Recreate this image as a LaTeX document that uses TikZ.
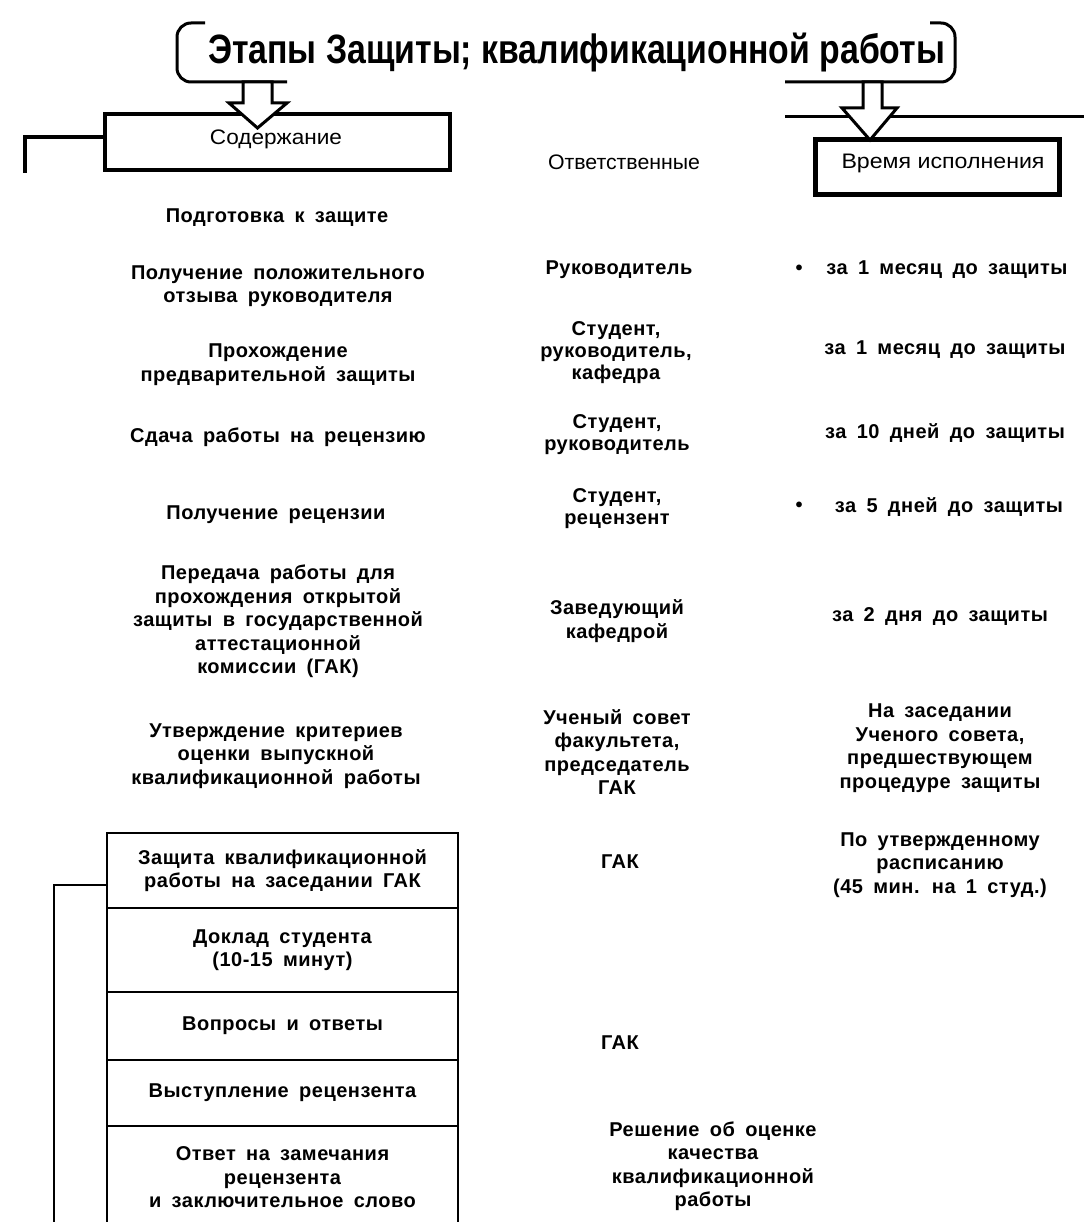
\documentclass[tikz,border=0pt]{standalone}
\usepackage{fontspec}
\setmainfont{Liberation Sans}
\newfontfamily\bodyfont{Liberation Sans}[LetterSpace=2.5, WordSpace=1.7]
\begin{document}
\begin{tikzpicture}[x=1pt,y=-1pt,
  body/.style={font=\bodyfont\bfseries\fontsize{20}{23.5}\selectfont, align=center, inner sep=0pt},
  body22/.style={font=\bodyfont\bfseries\fontsize{20}{22}\selectfont, align=center, inner sep=0pt},
  head/.style={font=\fontsize{21}{24}\selectfont, inner sep=0pt},
  hbox/.style={draw, line width=4.5pt, inner sep=0pt},
  paren/.style={line width=3pt, rounded corners=14pt},
  hollow/.style={draw, line width=3pt, fill=white, line join=miter},
  tline/.style={line width=1.2pt},
  tcell/.style={draw, line width=1.2pt, inner sep=0pt, minimum width=351pt, body}
]
\useasboundingbox (0,0) rectangle (1084,1222);

% title
\node[anchor=base west, inner sep=0pt] (title) at (208,64)
  {\resizebox{737pt}{\height}{\fontsize{41}{42}\selectfont\bfseries Этапы Защиты; квалификационной работы}};
\draw[paren] (205,23) -- (177,23) -- (177,82) -- (287,82);
\draw[paren] (930,23) -- (955,23) -- (955,82) -- (785,82);
\draw[line width=3pt] (785,117) -- (1084,117);

% heading boxes
\node[hbox, minimum width=345pt, minimum height=56pt] (soder) at (277.5,142) {};
\node[head] (soderT) at (276,139) {\resizebox{132pt}{\height}{Содержание}};
\node[hbox, minimum width=244pt, minimum height=55pt] (vrem) at (937.5,167) {};
\node[head] (vremT) at (943,163) {\resizebox{203pt}{\height}{Время исполнения}};
\node[head] (otv) at (624,162) {\resizebox{152pt}{\height}{Ответственные}};

% block arrows
\draw[hollow] (243,82) -- (272,82) -- (272,103) -- (287,103) -- (257.5,128) -- (229,103) -- (243,103) -- cycle;
\draw[hollow] (863,82) -- (882,82) -- (882,108) -- (897,108) -- (870,140) -- (842,108) -- (863,108) -- cycle;

% top-left bracket
\coordinate (brk) at (24.5,173);
\draw[line width=4pt] ([yshift=5pt]soder.west) -| (brk);

% left column
\node[body] (p1) at (277,218) {Подготовка к защите};
\node[body] (p2) at (278,286) {Получение положительного\\отзыва руководителя};
\node[body] (p3) at (278,364.5) {Прохождение\\предварительной защиты};
\node[body] (p4) at (278,437) {Сдача работы на рецензию};
\node[body] (p5) at (276,515) {Получение рецензии};
\node[body] (p6) at (278,621.5) {Передача работы для\\прохождения открытой\\защиты в государственной\\аттестационной\\комиссии (ГАК)};
\node[body] (p7) at (276,756) {Утверждение критериев\\оценки выпускной\\квалификационной работы};

% middle column
\node[body] (m1) at (619,270) {Руководитель};
\node[body22] (m2) at (616,353) {Студент,\\руководитель,\\кафедра};
\node[body22] (m3) at (617,435) {Студент,\\руководитель};
\node[body22] (m4) at (617,509) {Студент,\\рецензент};
\node[body] (m5) at (617,621) {Заведующий\\кафедрой};
\node[body] (m6) at (617,752) {Ученый совет\\факультета,\\председатель\\ГАК};
\node[body] (m7) at (620,862) {ГАК};
\node[body] (m8) at (620,1043) {ГАК};
\node[body] (m9) at (713,1166) {Решение об оценке\\качества\\квалификационной\\работы};

% right column
\node[body] (b1) at (799,270) {•};
\node[body] (r1) at (947,270) {за 1 месяц до защиты};
\node[body] (r2) at (945,350) {за 1 месяц до защиты};
\node[body] (r3) at (945,433) {за 10 дней до защиты};
\node[body] (b2) at (799,507) {•};
\node[body] (r4) at (949,507) {за 5 дней до защиты};
\node[body] (r5) at (940,617) {за 2 дня до защиты};
\node[body] (r6) at (940,748) {На заседании\\Ученого совета,\\предшествующем\\процедуре защиты};
\node[body] (r7) at (940,865) {По утвержденному\\расписанию\\(45 мин. на 1 студ.)};

% table
\node[tcell, minimum height=75pt] (t1) at (282.5,870.5) {Защита квалификационной\\работы на заседании ГАК};
\node[tcell, minimum height=84pt] (t2) at (282.5,950) {Доклад студента\\(10-15 минут)};
\node[tcell, minimum height=68pt] (t3) at (282.5,1026) {Вопросы и ответы};
\node[tcell, minimum height=66pt] (t4) at (282.5,1093) {Выступление рецензента};
\draw[tline] (107,1240) -- (107,1126) -- (458,1126) -- (458,1240);
\node[body] (t5) at (282.5,1177.5) {Ответ на замечания\\рецензента\\и заключительное слово};
\coordinate (bb) at (54,1222);
\draw[tline] ([yshift=-14.5pt]t1.west) -| (bb);
\end{tikzpicture}
\end{document}
